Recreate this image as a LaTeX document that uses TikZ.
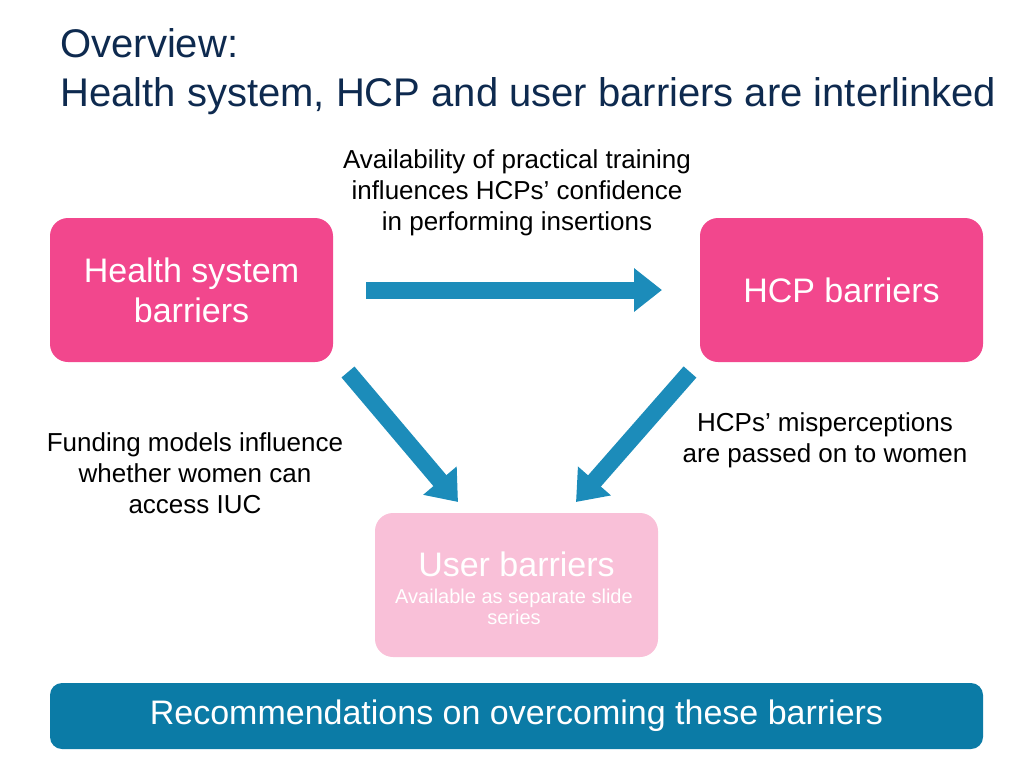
\documentclass[tikz,border=0pt]{standalone}
\usepackage{fontspec}
\setmainfont{Liberation Sans}
\usetikzlibrary{arrows.meta}
\definecolor{navy}{HTML}{0E2A4F}
\definecolor{hpink}{HTML}{F2478D}
\definecolor{lpink}{HTML}{F9C0D8}
\definecolor{abl}{HTML}{1C8CBA}
\definecolor{bar}{HTML}{0B7BA6}
\tikzset{
 box/.style={rounded corners=9pt,inner sep=0pt,align=center,text=white,font=\fontsize{17}{20}\selectfont},
 big/.style={draw=abl,line width=8.5pt,-{Triangle[width=21pt,length=14pt]}},
 lab/.style={align=center,font=\fontsize{13}{15.5}\selectfont,text=black}
}
\begin{document}
\begin{tikzpicture}[x=0.5pt,y=-0.5pt]
\useasboundingbox (0,0) rectangle (1024,767);
\node[anchor=west,text=navy,font=\fontsize{20}{24.5}\selectfont,align=left,inner sep=0pt] (title) at (60,72) {Overview:\\Health system, HCP and user barriers are interlinked};
\node[box,fill=hpink,minimum width=141.5pt,minimum height=72pt] (hs) at (191.5,290) {Health system\\barriers};
\node[box,fill=hpink,minimum width=141.5pt,minimum height=72pt] (hcp) at (841.5,290) {HCP barriers};
\node[box,fill=lpink,minimum width=141.5pt,minimum height=72pt] (ub) at (516.5,585) {};
\node[text=white,font=\fontsize{17}{20}\selectfont] (ut) at (516.5,564) {User barriers};
\node[text=white,font=\fontsize{10}{10.5}\selectfont,align=center] (us) at (514,607) {Available as separate slide\\series};
\node[rounded corners=6pt,fill=bar,minimum width=466.5pt,minimum height=33pt,text=white,font=\fontsize{17}{20}\selectfont] (rec) at (516.5,716) {Recommendations on overcoming these barriers};
\coordinate (a1) at (366,290); \coordinate (a2) at (662,290);
\coordinate (b1) at (348,372); \coordinate (b2) at (458,502);
\coordinate (c1) at (690,372); \coordinate (c2) at (576,502);
\draw[big] (a1) -- (a2);
\draw[big] (b1) -- (b2);
\draw[big] (c1) -- (c2);
\node[lab] (l1) at (517,193) {Availability of practical training\\influences HCPs’ confidence\\in performing insertions};
\node[lab] (l2) at (195,473) {Funding models influence\\whether women can\\access IUC};
\node[lab] (l3) at (825,440) {HCPs’ misperceptions\\are passed on to women};
\end{tikzpicture}
\end{document}
